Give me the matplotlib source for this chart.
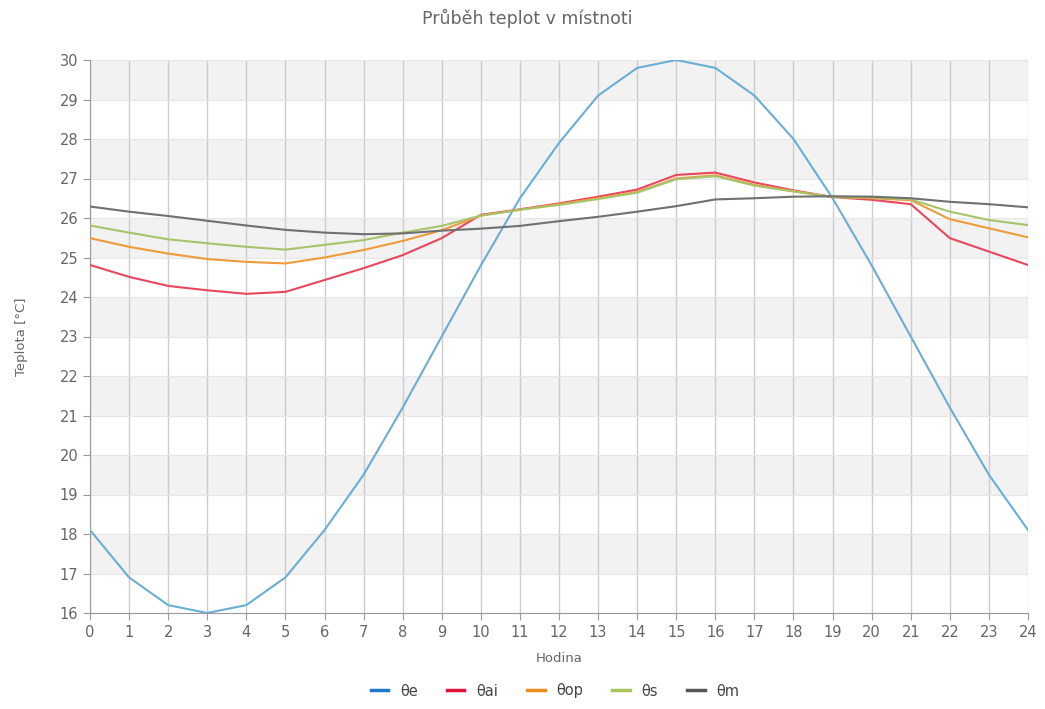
import matplotlib
matplotlib.use("Agg")
import matplotlib.pyplot as plt
from matplotlib.lines import Line2D

hours = list(range(25))
theta_e = [18.1, 16.9, 16.2, 16.0, 16.2, 16.9, 18.1, 19.5, 21.2, 23.0, 24.8, 26.5, 27.9,
           29.1, 29.8, 30.0, 29.8, 29.1, 28.0, 26.5, 24.8, 23.0, 21.2, 19.5, 18.1]
theta_ai = [24.81, 24.51, 24.28, 24.17, 24.08, 24.13, 24.43, 24.73, 25.06, 25.49, 26.08, 26.22, 26.37,
            26.54, 26.72, 27.09, 27.15, 26.9, 26.7, 26.53, 26.46, 26.35, 25.49, 25.15, 24.81]
theta_op = [25.49, 25.27, 25.1, 24.96, 24.89, 24.85, 25.0, 25.19, 25.42, 25.69, 26.06, 26.21, 26.35,
            26.5, 26.66, 27.0, 27.08, 26.84, 26.68, 26.53, 26.5, 26.45, 25.97, 25.74, 25.51]
theta_s = [25.81, 25.63, 25.46, 25.36, 25.27, 25.2, 25.32, 25.44, 25.63, 25.8, 26.06, 26.21, 26.33,
           26.48, 26.64, 26.98, 27.06, 26.82, 26.67, 26.53, 26.52, 26.47, 26.16, 25.95, 25.82]
theta_m = [26.29, 26.16, 26.05, 25.93, 25.81, 25.7, 25.63, 25.59, 25.61, 25.68, 25.73, 25.8, 25.92,
           26.03, 26.16, 26.3, 26.47, 26.5, 26.54, 26.55, 26.54, 26.5, 26.41, 26.35, 26.27]

series_labels = ["θe", "θai", "θop", "θs", "θm"]
series_values = [theta_e, theta_ai, theta_op, theta_s, theta_m]
line_colors = ["#6aaed6", "#e8475e", "#f09a3a", "#a8c46a", "#707070"]
legend_colors = ["#1f78c8", "#e0103a", "#f08c1a", "#a8c45a", "#555555"]

title = "Průběh teplot v místnoti"
xlabel = "Hodina"
ylabel = "Teplota [°C]"

txt = "#666666"
fig = plt.figure(figsize=(10.45, 7.09), dpi=100)
ax = fig.add_axes([90/1045, 1-613/709, (1028-90)/1045, (613-60)/709])

# alternating bands
for lo in range(17, 30, 2):
    ax.axhspan(lo, lo + 1, color="#f2f2f2", zorder=0, lw=0)

ax.set_xlim(0, 24)
ax.set_ylim(16, 30)
ax.set_xticks(hours)
ax.set_yticks(range(16, 31))
ax.grid(axis="x", color="#cccccc", lw=1, zorder=1)
ax.grid(axis="y", color="#e6e6e6", lw=0.8, zorder=1)

for vals, c in zip(series_values, line_colors):
    ax.plot(hours, vals, color=c, lw=1.5, zorder=3)

for s in ["top", "right"]:
    ax.spines[s].set_visible(False)
for s in ["left", "bottom"]:
    ax.spines[s].set_color("#999999")
ax.tick_params(colors="#999999", labelcolor=txt, labelsize=10.5, length=5, direction="out")

fig.text(0.5 + 0.005, 1 - 18/709, title, ha="center", va="center", fontsize=12.5, color=txt)
fig.text(559/1045, 1 - 659/709, xlabel, ha="center", va="center", fontsize=9.5, color=txt)
fig.text(22/1045, 1 - 337/709, ylabel, ha="center", va="center", fontsize=9.5, color=txt, rotation=90)

handles = [Line2D([0], [0], color=c, lw=2.5) for c in legend_colors]
fig.legend(handles, series_labels, loc="center", bbox_to_anchor=(555/1045, 1 - 691/709), ncol=5,
           frameon=False, fontsize=10.5, labelcolor="#444444", handlelength=1.2, columnspacing=2.0,
           handletextpad=0.8)

fig.savefig("out.png", dpi=100)
